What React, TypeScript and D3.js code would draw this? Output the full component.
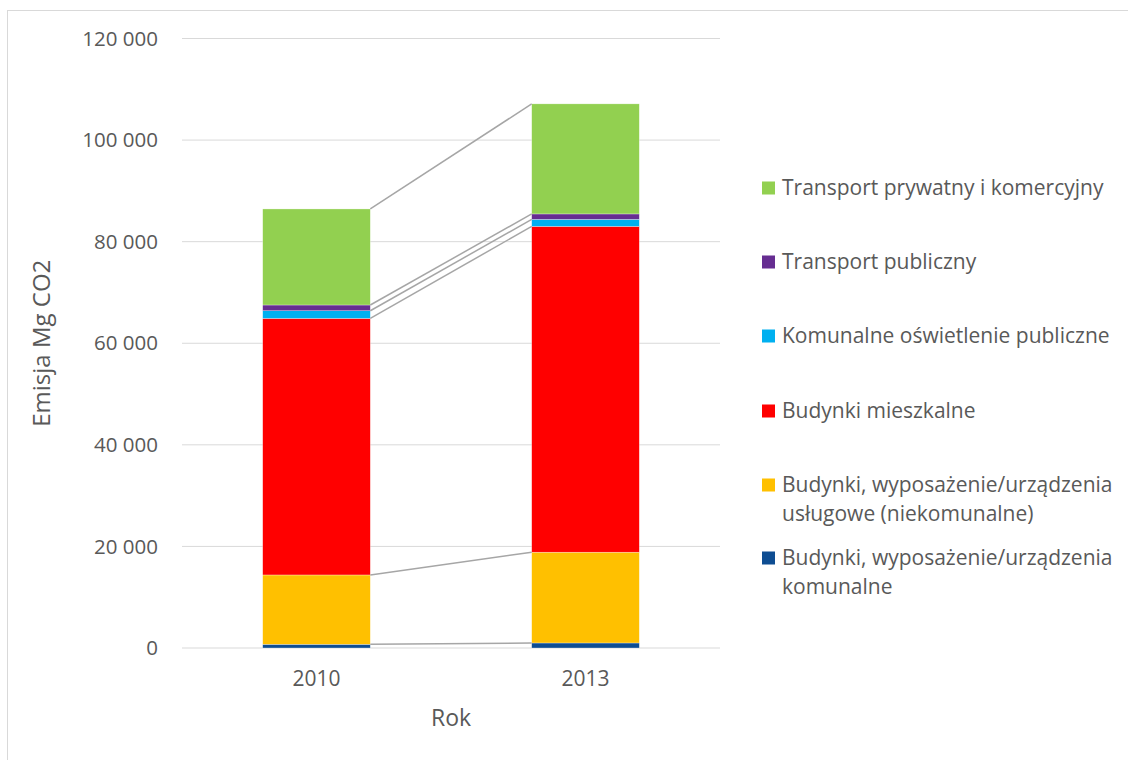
import React from "react";
import * as d3 from "d3";

const years = ["2010", "2013"];
const seriesNames = [
  "Budynki, wyposażenie/urządzenia komunalne",
  "Budynki, wyposażenie/urządzenia usługowe (niekomunalne)",
  "Budynki mieszkalne",
  "Komunalne oświetlenie publiczne",
  "Transport publiczny",
  "Transport prywatny i komercyjny",
];
const komunalne = [730, 990];
const uslugowe = [13650, 17870];
const mieszkalne = [50510, 64150];
const oswietlenie = [1510, 1380];
const publiczny = [1130, 1070];
const prywatny = [18910, 21670];
const seriesValues = [komunalne, uslugowe, mieszkalne, oswietlenie, publiczny, prywatny];
const colors = ["#0E4D92", "#FFC000", "#FF0000", "#00B0F0", "#662D91", "#92D050"];
const yTicks = [0, 20000, 40000, 60000, 80000, 100000, 120000];
const legendLines = [
  ["Transport prywatny i komercyjny"],
  ["Transport publiczny"],
  ["Komunalne oświetlenie publiczne"],
  ["Budynki mieszkalne"],
  ["Budynki, wyposażenie/urządzenia", "usługowe (niekomunalne)"],
  ["Budynki, wyposażenie/urządzenia", "komunalne"],
];
const legendSeriesIdx = [5, 4, 3, 2, 1, 0];
const legendY = [188, 262, 336, 411, 485, 558];

const FONT = "'Open Sans', sans-serif";
const TXT = "#595959";

export default function App() {
  const W = 1128, H = 760;
  const plotL = 182, plotR = 720, plotT = 38.5, plotB = 648;
  const x = d3.scaleBand().domain(years).range([plotL, plotR]).paddingInner(0.6).paddingOuter(0.3);
  const y = d3.scaleLinear().domain([0, 120000]).range([plotB, plotT]);

  const table = years.map((yr, i) => {
    const o: any = { year: yr };
    seriesNames.forEach((s, j) => (o[s] = seriesValues[j][i]));
    return o;
  });
  const stack = d3.stack<any>().keys(seriesNames)(table);
  const fmt = (v: number) => d3.format(",")(v).replace(/,/g, " ");
  const bw = x.bandwidth();

  return (
    <svg width={W} height={H} style={{ position: "absolute", left: 0, top: 0 }} fontFamily={FONT}>
      <rect x={0} y={0} width={W} height={H} fill="#fff" />
      <rect x={7.5} y={10.5} width={1140} height={780} fill="none" stroke="#d9d9d9" strokeWidth={1} />
      {yTicks.map((t) => (
        <g key={t}>
          <line x1={plotL} x2={plotR} y1={y(t)} y2={y(t)} stroke="#d9d9d9" strokeWidth={1} />
          <text x={158} y={y(t)} dy="0.35em" textAnchor="end" fontSize={20.5} fill={TXT}>
            {fmt(t)}
          </text>
        </g>
      ))}
      {stack.map((layer, si) => (
        <g key={si}>
          {layer.map((d, i) => (
            <rect
              key={i}
              x={x(years[i])!}
              y={y(d[1])}
              width={bw}
              height={Math.max(0, y(d[0]) - y(d[1]))}
              fill={colors[si]}
              stroke="#fff"
              strokeOpacity={0.6}
              strokeWidth={0.5}
            />
          ))}
        </g>
      ))}
      {stack.map((layer, si) => (
        <line
          key={"sl" + si}
          x1={x(years[0])! + bw}
          y1={y(layer[0][1])}
          x2={x(years[1])!}
          y2={y(layer[1][1])}
          stroke="#a6a6a6"
          strokeWidth={1.5}
        />
      ))}
      {years.map((yr) => (
        <text key={yr} x={x(yr)! + bw / 2} y={679} dy="0.35em" textAnchor="middle" fontSize={21} fill={TXT}>
          {yr}
        </text>
      ))}
      <text x={(plotL + plotR) / 2} y={718} dy="0.35em" textAnchor="middle" fontSize={23} fill={TXT}>
        Rok
      </text>
      <text
        transform={`translate(42,${(plotT + plotB) / 2}) rotate(-90)`}
        dy="0.35em"
        textAnchor="middle"
        fontSize={24}
        fill={TXT}
      >
        Emisja Mg CO2
      </text>
      {legendLines.map((lines, i) => (
        <g key={"lg" + i}>
          <rect x={762} y={legendY[i] - 6.5} width={13} height={13} fill={colors[legendSeriesIdx[i]]} />
          {lines.map((l, k) => (
            <text key={k} x={782} y={legendY[i] + k * 28.5} dy="0.35em" fontSize={21} fill={TXT}>
              {l}
            </text>
          ))}
        </g>
      ))}
    </svg>
  );
}
